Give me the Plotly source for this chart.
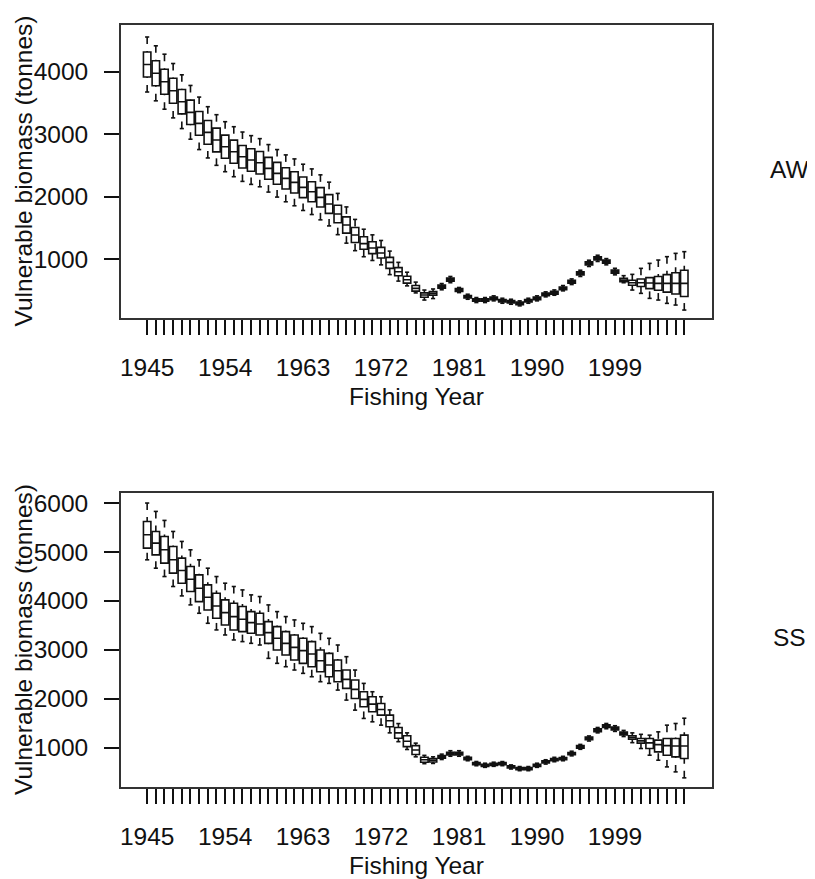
import plotly.graph_objects as go

# ---------------- data ----------------
years = list(range(1945, 2008))
x_tick_labels = ["1945", "1954", "1963", "1972", "1981", "1990", "1999"]
panel_labels = ["AW", "SS"]
y_title = "Vulnerable biomass (tonnes)"
x_title = "Fishing Year"

aw_lo = [3675, 3534, 3400, 3261, 3090, 2920, 2754, 2620, 2502, 2400,
         2320, 2245, 2197, 2159, 2074, 1994, 1919, 1855, 1780, 1715,
         1630, 1533, 1393, 1257, 1137, 1040, 980, 910, 754, 650,
         574, 461, 347, 371, 511, 624, 466, 360, 307, 307,
         334, 296, 280, 254, 296, 334, 398, 424, 494, 595,
         724, 884, 964, 910, 750, 624, 507, 454, 374, 347,
         294, 267, 187]
aw_q1 = [3915, 3774, 3640, 3496, 3325, 3155, 2984, 2840, 2717, 2615,
         2535, 2460, 2407, 2364, 2279, 2199, 2124, 2060, 1985, 1920,
         1835, 1733, 1583, 1417, 1267, 1160, 1090, 1020, 854, 735,
         617, 489, 392, 424, 536, 649, 485, 380, 327, 327,
         354, 316, 300, 274, 316, 354, 418, 442, 512, 618,
         749, 909, 989, 935, 775, 641, 584, 564, 529, 504,
         474, 444, 404]
aw_med = [4115, 3974, 3840, 3696, 3520, 3350, 3174, 3030, 2907, 2800,
          2720, 2640, 2587, 2544, 2454, 2374, 2294, 2230, 2150, 2080,
          1990, 1883, 1723, 1547, 1387, 1250, 1180, 1100, 950, 800,
          672, 534, 427, 454, 561, 674, 507, 400, 347, 347,
          374, 336, 320, 294, 336, 374, 438, 464, 534, 640,
          774, 934, 1014, 960, 800, 667, 624, 624, 620, 614,
          614, 614, 614]
aw_q3 = [4315, 4174, 4040, 3896, 3715, 3545, 3364, 3220, 3097, 2985,
         2905, 2820, 2767, 2724, 2629, 2549, 2464, 2400, 2315, 2240,
         2145, 2033, 1863, 1677, 1507, 1360, 1280, 1190, 1030, 865,
         727, 579, 462, 484, 586, 699, 529, 420, 367, 367,
         394, 356, 340, 314, 356, 394, 458, 486, 556, 662,
         799, 959, 1039, 985, 825, 695, 664, 684, 705, 724,
         754, 784, 824]
aw_hi = [4555, 4414, 4280, 4131, 3950, 3780, 3594, 3440, 3312, 3200,
         3120, 3035, 2977, 2929, 2834, 2754, 2669, 2605, 2520, 2445,
         2350, 2233, 2053, 1837, 1637, 1480, 1390, 1300, 1130, 950,
         792, 634, 507, 524, 611, 724, 548, 440, 387, 387,
         414, 376, 360, 334, 376, 414, 478, 509, 579, 685,
         824, 984, 1064, 1010, 855, 737, 758, 854, 934, 987,
         1041, 1094, 1121]

ss_lo = [4839, 4668, 4497, 4293, 4101, 3917, 3746, 3541, 3405, 3302,
         3200, 3166, 3131, 3097, 2824, 2722, 2653, 2585, 2517, 2448,
         2346, 2312, 2175, 1970, 1765, 1595, 1526, 1458, 1300, 1120,
         960, 810, 670, 675, 755, 822, 822, 730, 628, 595,
         616, 629, 561, 527, 527, 595, 662, 710, 730, 830,
         964, 1133, 1300, 1384, 1330, 1225, 1100, 980, 843, 741,
         604, 502, 380]
ss_q1 = [5078, 4941, 4771, 4566, 4361, 4190, 3985, 3814, 3644, 3507,
         3405, 3370, 3336, 3302, 3131, 2995, 2892, 2790, 2722, 2653,
         2551, 2448, 2346, 2210, 2004, 1834, 1731, 1663, 1424, 1190,
         1018, 857, 700, 705, 780, 847, 847, 750, 648, 615,
         636, 649, 581, 547, 547, 615, 684, 732, 752, 853,
         988, 1158, 1326, 1410, 1358, 1255, 1170, 1090, 980, 912,
         843, 809, 775]
ss_med = [5351, 5180, 5044, 4839, 4620, 4443, 4258, 4074, 3896, 3760,
          3678, 3623, 3555, 3527, 3350, 3234, 3131, 3049, 2981, 2913,
          2776, 2687, 2571, 2394, 2189, 1984, 1888, 1779, 1547, 1300,
          1130, 950, 750, 740, 808, 876, 876, 774, 671, 637,
          658, 671, 603, 569, 569, 637, 705, 753, 774, 876,
          1013, 1184, 1354, 1436, 1388, 1286, 1204, 1136, 1095, 1060,
          1040, 1030, 1030]
ss_q3 = [5624, 5419, 5317, 5112, 4873, 4702, 4532, 4327, 4156, 4019,
         3951, 3883, 3780, 3746, 3575, 3473, 3370, 3302, 3234, 3166,
         2995, 2926, 2790, 2585, 2380, 2141, 2039, 1902, 1663, 1410,
         1240, 1040, 800, 775, 836, 905, 905, 798, 694, 659,
         680, 693, 625, 591, 591, 659, 728, 776, 796, 899,
         1040, 1212, 1382, 1466, 1418, 1319, 1240, 1185, 1185, 1151,
         1185, 1185, 1253]
ss_hi = [6000, 5829, 5645, 5419, 5215, 5044, 4839, 4668, 4497, 4361,
         4293, 4224, 4122, 4088, 3917, 3780, 3678, 3610, 3541, 3473,
         3336, 3234, 3097, 2858, 2585, 2312, 2141, 2039, 1770, 1490,
         1300, 1090, 840, 810, 865, 935, 935, 820, 714, 679,
         700, 713, 645, 611, 611, 679, 750, 800, 820, 925,
         1064, 1237, 1410, 1492, 1446, 1350, 1300, 1270, 1253, 1321,
         1458, 1492, 1600]

aw_ticks = [1000, 2000, 3000, 4000]
ss_ticks = [1000, 2000, 3000, 4000, 5000, 6000]

# ---------------- style ----------------
FONT = "Arial, Liberation Sans, sans-serif"
FS = 24.5
INK = "#111111"
LW = 1.6
STAPLE_HALF = 0.24

# the page body has an 8px default margin, so the figure is 8px smaller
W, H = 807, 871
ML, MR, MT, MB = 113, 103, 17, 92
PW = W - ML - MR          # plot width in px

fig = go.Figure()


def add_panel(lo, q1, med, q3, hi, xa, ya):
    fig.add_trace(go.Box(
        x=years, q1=q1, median=med, q3=q3, lowerfence=q1, upperfence=q3,
        boxpoints=False, whiskerwidth=0, width=0.86,
        fillcolor="rgba(0,0,0,0)", line=dict(color=INK, width=LW),
        xaxis=xa, yaxis=ya, showlegend=False, hoverinfo="skip"))
    wx, wy, sx, sy = [], [], [], []
    for yr, a, b, c, d in zip(years, lo, q1, q3, hi):
        wx += [yr, yr, None, yr, yr, None]
        wy += [d, c, None, a, b, None]
        sx += [yr - STAPLE_HALF, yr + STAPLE_HALF, None,
               yr - STAPLE_HALF, yr + STAPLE_HALF, None]
        sy += [d, d, None, a, a, None]
    fig.add_trace(go.Scatter(x=wx, y=wy, mode="lines",
                             line=dict(color=INK, width=LW, dash="7px,7px"),
                             xaxis=xa, yaxis=ya, showlegend=False,
                             hoverinfo="skip"))
    fig.add_trace(go.Scatter(x=sx, y=sy, mode="lines",
                             line=dict(color=INK, width=LW),
                             xaxis=xa, yaxis=ya, showlegend=False,
                             hoverinfo="skip"))


add_panel(aw_lo, aw_q1, aw_med, aw_q3, aw_hi, "x", "y")
add_panel(ss_lo, ss_q1, ss_med, ss_q3, ss_hi, "x2", "y2")

ticktext = [str(y) if str(y) in x_tick_labels else "" for y in years]

xcommon = dict(range=[1941.98, 2010.2], tickmode="array", tickvals=years,
               ticktext=ticktext, ticks="outside", ticklen=15, tickwidth=1.5,
               tickcolor=INK, showline=True, mirror=True, linecolor="#333333",
               linewidth=1.8, showgrid=False, zeroline=False, automargin=False,
               tickfont=dict(family=FONT, size=FS, color=INK),
               ticklabelstandoff=12,
               title=dict(text=x_title, standoff=8,
                          font=dict(family=FONT, size=FS, color=INK)))
ycommon = dict(ticks="outside", ticklen=15, tickwidth=1.5, tickcolor=INK,
               showline=True, mirror=True, linecolor="#333333", linewidth=1.8,
               showgrid=False, zeroline=False, tickmode="array",
               automargin=False,
               tickfont=dict(family=FONT, size=FS, color=INK),
               ticklabelstandoff=11)

top_dom = [0.6155, 1.0]
bot_dom = [0.0, 0.3858]

ann = []
for lab, dom in zip(panel_labels, [top_dom, bot_dom]):
    yc = (dom[0] + dom[1]) / 2
    ann.append(dict(text=lab, xref="paper", yref="paper",
                    x=1 + (789 - 8 - (ML + PW)) / PW, y=yc + 0.003,
                    showarrow=False, xanchor="center", yanchor="middle",
                    font=dict(family=FONT, size=FS, color=INK)))
    ann.append(dict(text=y_title, xref="paper", yref="paper",
                    x=(23 - 8 - ML) / PW, y=yc, textangle=-90,
                    showarrow=False, xanchor="center", yanchor="middle",
                    font=dict(family=FONT, size=FS, color=INK)))

fig.update_layout(
    width=W, height=H,
    margin=dict(l=ML, r=MR, t=MT, b=MB),
    paper_bgcolor="white", plot_bgcolor="white",
    xaxis=dict(**xcommon, domain=[0, 1], anchor="y"),
    xaxis2=dict(**xcommon, domain=[0, 1], anchor="y2"),
    yaxis=dict(**ycommon, domain=top_dom, range=[60, 4747],
               tickvals=aw_ticks, anchor="x"),
    yaxis2=dict(**ycommon, domain=bot_dom, range=[193, 6205],
                tickvals=ss_ticks, anchor="x2"),
    annotations=ann,
)

fig.write_html("out.html")
